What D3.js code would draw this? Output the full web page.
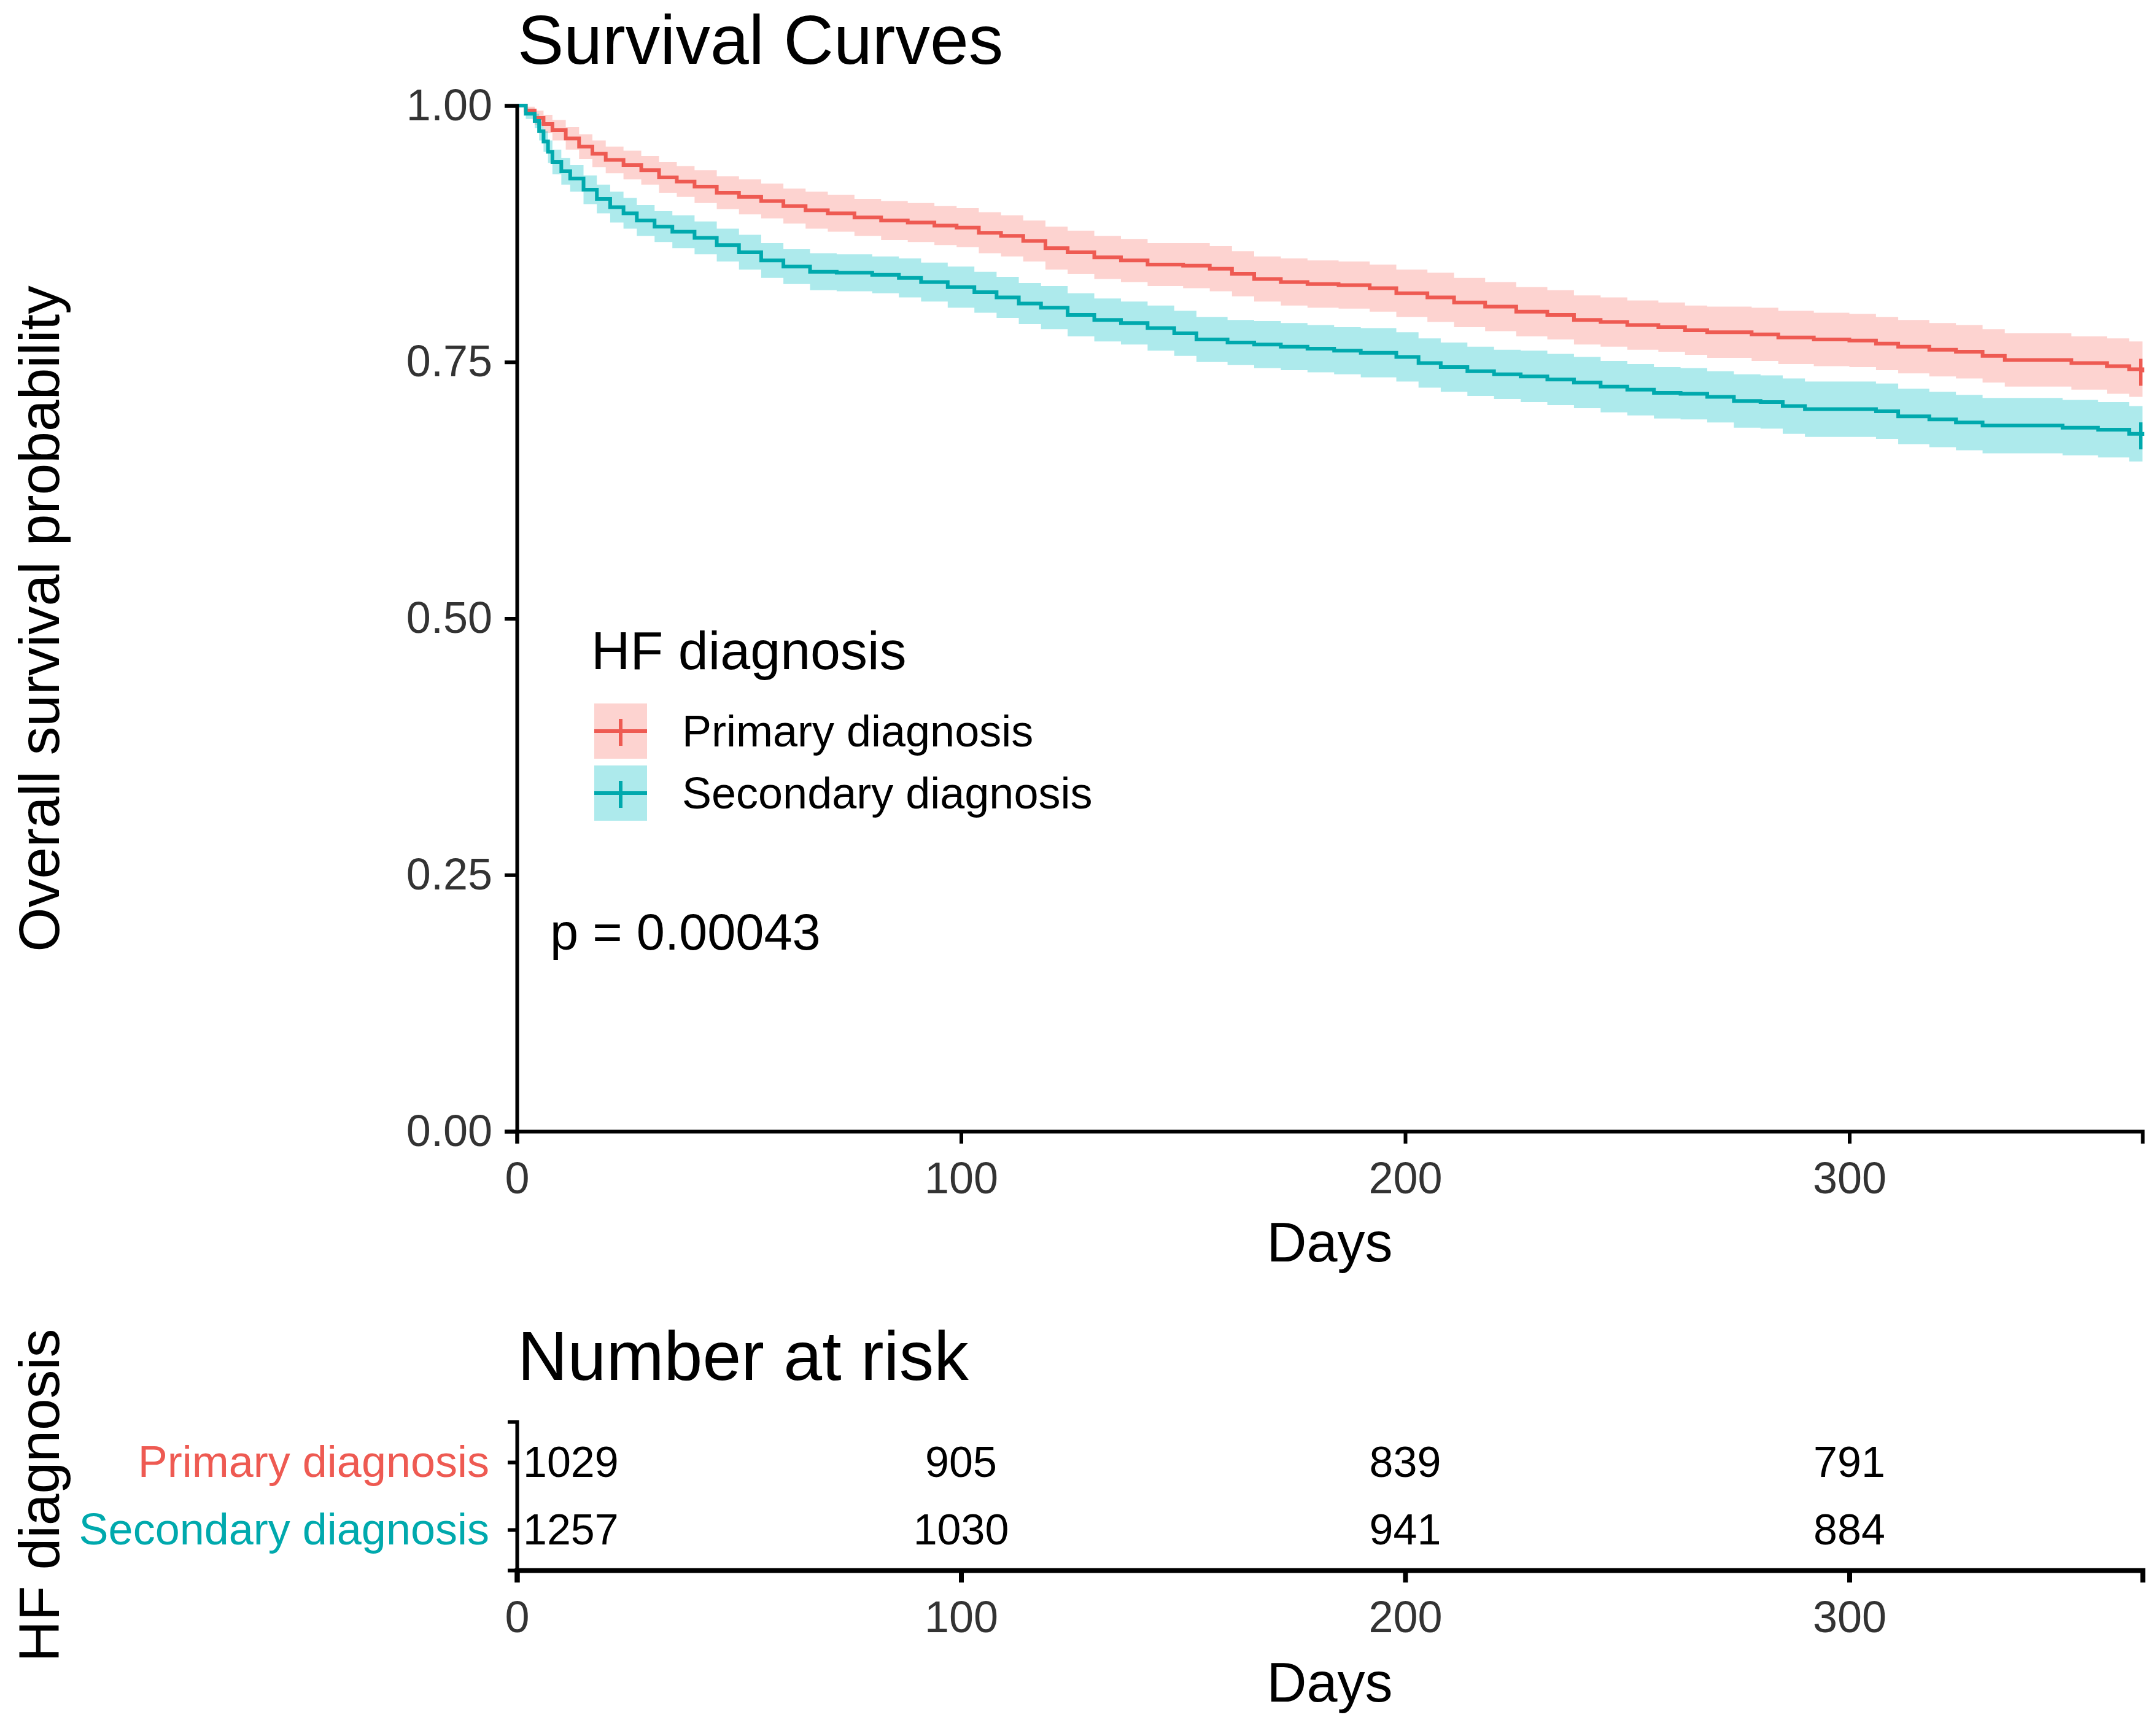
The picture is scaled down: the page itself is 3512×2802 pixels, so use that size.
<!DOCTYPE html>
<html>
<head>
<meta charset="utf-8">
<script src="https://cdn.jsdelivr.net/npm/d3@7"></script>
<style>
  body { margin: 0; background: #fff; }
  text { font-family: "Liberation Sans", Arial, sans-serif; }
</style>
</head>
<body>
<div id="chart"></div>
<script>
// ---- data ----
const groups = ["Primary diagnosis", "Secondary diagnosis"];
const xTicks = [0, 100, 200, 300];
const yTicks = [0, 0.25, 0.5, 0.75, 1];
const yTickLabels = ["0.00", "0.25", "0.50", "0.75", "1.00"];

// [day, survival, lower CI, upper CI]
const primaryCurve = [
  [0,1.000,1.000,1.000],[2,0.995,0.991,0.999],[4,0.988,0.981,0.995],[6,0.982,0.973,0.991],
  [8,0.976,0.966,0.986],[11,0.968,0.957,0.979],[14,0.960,0.948,0.972],[17,0.953,0.940,0.966],
  [20,0.947,0.934,0.960],[24,0.942,0.928,0.956],[28,0.937,0.923,0.951],[32,0.930,0.915,0.945],
  [36,0.926,0.911,0.941],[40,0.921,0.905,0.937],[45,0.915,0.899,0.931],[50,0.911,0.894,0.928],
  [55,0.907,0.890,0.924],[60,0.902,0.885,0.919],[65,0.898,0.880,0.916],[70,0.895,0.877,0.913],
  [76,0.891,0.873,0.909],[82,0.888,0.869,0.907],[88,0.886,0.867,0.905],[94,0.883,0.864,0.902],
  [99,0.881,0.862,0.900],[104,0.876,0.856,0.896],[109,0.873,0.853,0.893],[114,0.868,0.848,0.888],
  [119,0.861,0.840,0.882],[124,0.857,0.836,0.878],[130,0.852,0.831,0.873],[136,0.849,0.828,0.870],
  [142,0.845,0.824,0.866],[150,0.844,0.822,0.866],[156,0.841,0.819,0.863],[161,0.836,0.814,0.858],
  [166,0.831,0.809,0.853],[172,0.828,0.805,0.851],[178,0.826,0.803,0.849],[185,0.825,0.802,0.848],
  [192,0.822,0.799,0.845],[198,0.817,0.794,0.840],[205,0.813,0.789,0.837],[211,0.808,0.784,0.832],
  [218,0.804,0.780,0.828],[225,0.799,0.775,0.823],[232,0.796,0.772,0.820],[238,0.791,0.767,0.815],
  [244,0.789,0.765,0.813],[250,0.786,0.762,0.810],[257,0.784,0.760,0.808],[263,0.781,0.757,0.805],
  [268,0.779,0.754,0.804],[278,0.777,0.751,0.803],[284,0.774,0.748,0.800],[292,0.772,0.746,0.798],
  [300,0.771,0.745,0.797],[306,0.768,0.742,0.794],[311,0.765,0.739,0.791],[318,0.762,0.736,0.788],
  [324,0.760,0.734,0.786],[330,0.756,0.730,0.782],[335,0.752,0.726,0.778],[350,0.749,0.723,0.775],
  [358,0.746,0.719,0.773],[363,0.743,0.716,0.770],[366,0.740,0.713,0.767]
];

const secondaryCurve = [
  [0,1.000,1.000,1.000],[2,0.992,0.987,0.997],[4,0.985,0.978,0.992],[5,0.975,0.966,0.984],
  [6,0.965,0.955,0.975],[7,0.955,0.944,0.966],[8,0.945,0.933,0.957],[10,0.936,0.923,0.949],
  [12,0.929,0.916,0.942],[15,0.918,0.904,0.932],[18,0.909,0.895,0.923],[21,0.901,0.886,0.916],
  [24,0.895,0.880,0.910],[27,0.888,0.873,0.903],[31,0.882,0.867,0.897],[35,0.877,0.861,0.893],
  [40,0.871,0.855,0.887],[45,0.864,0.848,0.880],[50,0.857,0.840,0.874],[55,0.849,0.832,0.866],
  [60,0.843,0.826,0.860],[66,0.838,0.820,0.856],[72,0.837,0.819,0.855],[80,0.835,0.817,0.853],
  [86,0.832,0.813,0.851],[91,0.828,0.809,0.847],[97,0.823,0.803,0.843],[103,0.818,0.798,0.838],
  [108,0.813,0.793,0.833],[113,0.807,0.787,0.827],[118,0.803,0.782,0.824],[124,0.796,0.775,0.817],
  [130,0.791,0.770,0.812],[136,0.788,0.767,0.809],[142,0.783,0.761,0.805],[148,0.778,0.756,0.800],
  [153,0.772,0.750,0.794],[160,0.769,0.747,0.791],[166,0.767,0.744,0.790],[172,0.765,0.742,0.788],
  [178,0.763,0.740,0.786],[184,0.761,0.738,0.784],[190,0.759,0.735,0.783],[198,0.755,0.731,0.779],
  [203,0.749,0.725,0.773],[208,0.745,0.721,0.769],[214,0.741,0.717,0.765],[220,0.738,0.714,0.762],
  [226,0.736,0.711,0.761],[232,0.733,0.708,0.758],[238,0.730,0.705,0.755],[244,0.726,0.701,0.751],
  [250,0.723,0.698,0.748],[256,0.720,0.695,0.745],[262,0.719,0.694,0.744],[268,0.716,0.691,0.741],
  [274,0.712,0.686,0.738],[280,0.711,0.685,0.737],[285,0.707,0.680,0.734],[290,0.704,0.677,0.731],
  [306,0.702,0.675,0.729],[311,0.697,0.670,0.724],[318,0.694,0.667,0.721],[324,0.691,0.664,0.718],
  [330,0.688,0.661,0.715],[348,0.686,0.659,0.713],[356,0.684,0.657,0.711],[363,0.680,0.653,0.707],
  [366,0.678,0.651,0.705]
];

const riskPrimary = [1029, 905, 839, 791];
const riskSecondary = [1257, 1030, 941, 884];
const pLabel = "p = 0.00043";

// ---- styles ----
const lineColors = ["#EE5A52", "#00A9AD"];
const bandColors = ["#F8766D", "#00BFC4"];
const W = 3512, H = 2802;

const svg = d3.select("#chart").append("svg")
    .attr("width", W)
    .attr("height", H)
    .style("background", "#fff");

const x = d3.scaleLinear().domain([0, 366]).range([842, 3490]);
const y = d3.scaleLinear().domain([0, 1]).range([1843, 172]);

function styleAxis(g, width) {
    g.selectAll(".domain").attr("stroke", "#000").attr("stroke-width", width);
    g.selectAll(".tick line").attr("stroke", "#000").attr("stroke-width", width);
    g.selectAll(".tick text")
        .attr("fill", "#333")
        .style("font-size", "72px")
        .style("font-family", "Liberation Sans, Arial, sans-serif");
}

// ---- survival plot ----
const curves = [primaryCurve, secondaryCurve];

const band = d3.area()
    .curve(d3.curveStepAfter)
    .x(d => x(d[0]))
    .y0(d => y(d[2]))
    .y1(d => y(d[3]));

const line = d3.line()
    .curve(d3.curveStepAfter)
    .x(d => x(d[0]))
    .y(d => y(d[1]));

curves.forEach((c, i) => {
    svg.append("path")
        .attr("d", band(c))
        .attr("fill", bandColors[i])
        .attr("fill-opacity", 0.32);
});
curves.forEach((c, i) => {
    svg.append("path")
        .attr("d", line(c))
        .attr("fill", "none")
        .attr("stroke", lineColors[i])
        .attr("stroke-width", 6);
    // censor mark at the end of follow-up
    const last = c[c.length - 1];
    svg.append("line")
        .attr("x1", x(last[0]) - 3).attr("x2", x(last[0]) - 3)
        .attr("y1", y(last[1]) - 22).attr("y2", y(last[1]) + 22)
        .attr("stroke", lineColors[i])
        .attr("stroke-width", 6);
});

// axes
const yAxis = svg.append("g")
    .attr("transform", `translate(${x(0)},0)`)
    .call(d3.axisLeft(y).tickValues(yTicks).tickFormat((d, i) => yTickLabels[i]).tickSizeOuter(0).tickSize(20).tickPadding(20));
styleAxis(yAxis, 6);

const xAxis = svg.append("g")
    .attr("transform", `translate(0,${y(0)})`)
    .call(d3.axisBottom(x).tickValues(xTicks).tickSizeOuter(0).tickSize(20).tickPadding(30));
styleAxis(xAxis, 6);

svg.append("text")
    .attr("x", 843).attr("y", 104)
    .style("font-size", "113px")
    .text("Survival Curves");

svg.append("text")
    .attr("transform", `translate(96,1008) rotate(-90)`)
    .attr("text-anchor", "middle")
    .style("font-size", "93px")
    .text("Overall survival probability");

svg.append("text")
    .attr("x", x(183)).attr("y", 2055)
    .attr("text-anchor", "middle")
    .style("font-size", "90px")
    .text("Days");

// legend
const legend = svg.append("g");
legend.append("text")
    .attr("x", 963).attr("y", 1090)
    .style("font-size", "88px")
    .text("HF diagnosis");

groups.forEach((g, i) => {
    const cy = 1191 + i * 101;
    legend.append("rect")
        .attr("x", 968).attr("y", cy - 45)
        .attr("width", 86).attr("height", 90)
        .attr("fill", bandColors[i]).attr("fill-opacity", 0.32);
    legend.append("line")
        .attr("x1", 968).attr("x2", 1054).attr("y1", cy).attr("y2", cy)
        .attr("stroke", lineColors[i]).attr("stroke-width", 6);
    legend.append("line")
        .attr("x1", 1011).attr("x2", 1011).attr("y1", cy - 20).attr("y2", cy + 24)
        .attr("stroke", lineColors[i]).attr("stroke-width", 6);
    legend.append("text")
        .attr("x", 1111).attr("y", cy)
        .attr("dominant-baseline", "central")
        .style("font-size", "72px")
        .text(g);
});

svg.append("text")
    .attr("x", 896).attr("y", 1518)
    .attr("dominant-baseline", "central")
    .style("font-size", "83px")
    .text(pLabel);

// ---- number at risk table ----
const yr = d3.scaleLinear().domain([0.4, 2.6]).range([2558, 2316]);
const riskRows = [riskPrimary, riskSecondary];
const rowPos = [2, 1];

svg.append("text")
    .attr("x", 843).attr("y", 2248)
    .style("font-size", "113px")
    .text("Number at risk");

const rAxisY = svg.append("g")
    .attr("transform", `translate(${x(0)},0)`)
    .call(d3.axisLeft(yr).tickValues(rowPos).tickFormat((d, i) => groups[i]).tickSizeOuter(0).tickSize(15).tickPadding(30));
styleAxis(rAxisY, 6);
rAxisY.selectAll(".tick text")
    .attr("fill", (d, i) => lineColors[i]);

const rAxisX = svg.append("g")
    .attr("transform", `translate(0,${yr(0.4)})`)
    .call(d3.axisBottom(x).tickValues(xTicks).tickSizeOuter(0).tickSize(20).tickPadding(30));
styleAxis(rAxisX, 8);

riskRows.forEach((row, r) => {
    svg.append("g").selectAll("text")
        .data(row)
        .enter()
        .append("text")
        .attr("x", (d, i) => i === 0 ? x(xTicks[i]) + 10 : x(xTicks[i]))
        .attr("y", yr(rowPos[r]))
        .attr("text-anchor", (d, i) => i === 0 ? "start" : "middle")
        .attr("dominant-baseline", "central")
        .style("font-size", "70px")
        .text(d => d);
});

svg.append("text")
    .attr("x", x(183)).attr("y", 2772)
    .attr("text-anchor", "middle")
    .style("font-size", "90px")
    .text("Days");

svg.append("text")
    .attr("transform", `translate(96,2436) rotate(-90)`)
    .attr("text-anchor", "middle")
    .style("font-size", "93px")
    .text("HF diagnosis");
</script>
</body>
</html>
